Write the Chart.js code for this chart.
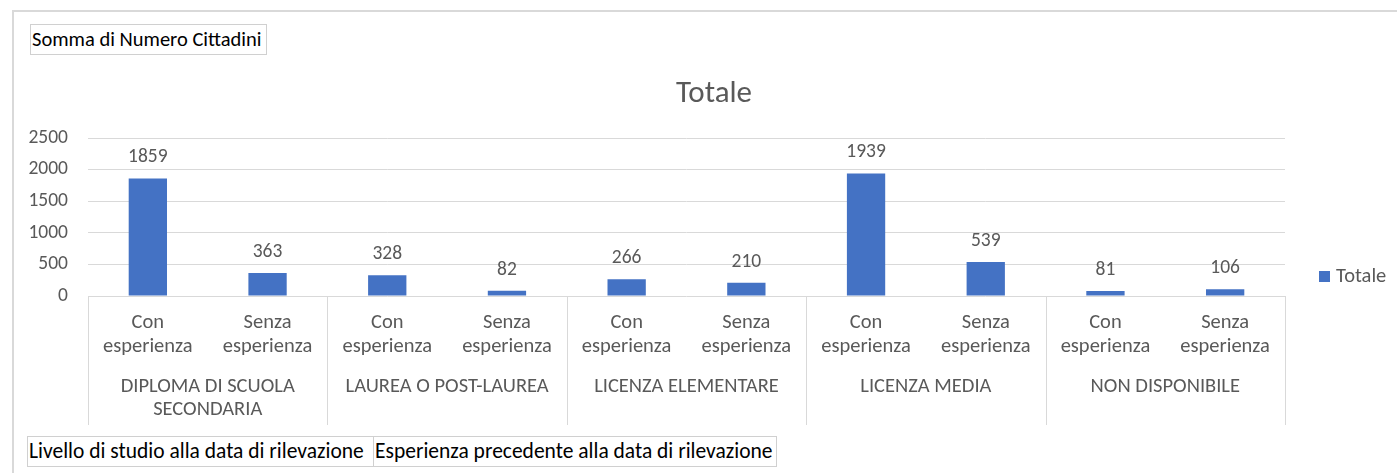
<!DOCTYPE html>
<html>
<head>
<meta charset="utf-8">
<script src="https://cdn.jsdelivr.net/npm/chart.js@4"></script>
<style>
  body { margin: 0; background: #fff; font-family: Carlito, Lato, sans-serif; }
  #wrap { position: relative; width: 1397px; height: 473px; overflow: hidden; }
  #frame { position: absolute; left: 12px; top: 10px; width: 1400px; height: 480px;
           border-top: 2px solid #d9d9d9; border-left: 2px solid #d9d9d9; }
  .btn { position: absolute; border: 1px solid #d0d0d0; font-size: 21.5px; color: #000;
         height: 29px; line-height: 29px; padding: 0 1px; white-space: nowrap; background: #fff; }
  canvas { position: absolute; left: 0; top: 0; }
</style>
</head>
<body>
<div id="wrap">
  <div id="frame"></div>
  <canvas id="grafico" width="1397" height="473"></canvas>
  <div class="btn" style="left:30px;top:24px;width:233px;font-size:20.5px;">Somma di Numero Cittadini</div>
  <div class="btn" style="left:27px;top:436px;width:344px;">Livello di studio alla data di rilevazione</div>
  <div class="btn" style="left:373px;top:436px;width:400px;">Esperienza precedente alla data di rilevazione</div>
</div>
<script>
// livelli di studio (ogni gruppo ha le sue righe di etichetta)
const livelli = [
  ["DIPLOMA DI SCUOLA", "SECONDARIA"],
  ["LAUREA O POST-LAUREA"],
  ["LICENZA ELEMENTARE"],
  ["LICENZA MEDIA"],
  ["NON DISPONIBILE"]
];
const esperienza = [["Con", "esperienza"], ["Senza", "esperienza"]];
const totale = [1859, 363, 328, 82, 266, 210, 1939, 539, 81, 106];
const yMax = 2500;
const yStep = 500;

const grigio = "#595959";
const blu = "#4472C4";
const font = "Carlito, Lato, sans-serif";

let etichette = [];
livelli.forEach(l => esperienza.forEach(e => etichette.push(e.join(" ") + " - " + l.join(" "))));

// titolo, asse a due livelli, etichette dati e legenda disegnati a mano
const assePivot = {
  id: "assePivot",
  afterDraw(chart) {
    const ctx = chart.ctx;
    const x = chart.scales.x;
    const area = chart.chartArea;
    const n = esperienza.length;
    ctx.save();
    ctx.fillStyle = grigio;
    ctx.textAlign = "center";
    ctx.textBaseline = "middle";

    // titolo centrato su tutto il grafico
    ctx.font = "31px " + font;
    ctx.fillText(chart.data.datasets[0].label, 714, 94);

    // valori sopra le barre
    ctx.font = "19.5px " + font;
    const meta = chart.getDatasetMeta(0);
    meta.data.forEach((bar, i) => {
      ctx.fillText(String(totale[i]), bar.x, bar.y - 21);
    });

    // categorie interne
    ctx.font = "20.5px " + font;
    totale.forEach((v, i) => {
      const cx = x.getPixelForValue(i);
      const righe = esperienza[i % n];
      righe.forEach((r, k) => ctx.fillText(r, cx, area.bottom + 27 + k * 24));
    });

    // gruppi e separatori
    const passo = x.getPixelForValue(1) - x.getPixelForValue(0);
    ctx.strokeStyle = "#d9d9d9";
    ctx.lineWidth = 1;
    livelli.forEach((l, g) => {
      const left = x.getPixelForValue(g * n) - passo / 2;
      const right = x.getPixelForValue(g * n + n - 1) + passo / 2;
      l.forEach((r, k) => ctx.fillText(r, (left + right) / 2, area.bottom + 91 + k * 23));
      [left, right].forEach(px => {
        ctx.beginPath();
        ctx.moveTo(Math.round(px) + 0.5, area.bottom);
        ctx.lineTo(Math.round(px) + 0.5, area.bottom + 129);
        ctx.stroke();
      });
    });

    // legenda
    ctx.fillStyle = blu;
    ctx.fillRect(area.right + 34, 271, 11, 11);
    ctx.fillStyle = grigio;
    ctx.textAlign = "left";
    ctx.font = "20.5px " + font;
    ctx.fillText(chart.data.datasets[0].label, area.right + 51, 277);
    ctx.restore();
  }
};

new Chart(document.getElementById("grafico"), {
  type: "bar",
  data: {
    labels: etichette,
    datasets: [
      {
        label: "Totale",
        data: totale,
        backgroundColor: blu,
        categoryPercentage: 1,
        barPercentage: 0.32
      }
    ]
  },
  options: {
    responsive: false,
    animation: false,
    layout: { padding: { left: 12, top: 138, right: 112, bottom: 177 } },
    plugins: {
      legend: { display: false },
      tooltip: { enabled: false },
      title: { display: false }
    },
    scales: {
      x: { display: false },
      y: {
        min: 0,
        max: yMax,
        afterFit(s) { s.width = 76; },
        ticks: {
          stepSize: yStep,
          color: grigio,
          padding: 20,
          font: { family: font, size: 19.5 },
          callback: v => String(v)
        },
        grid: { color: "#d9d9d9", drawTicks: false },
        border: { display: false }
      }
    }
  },
  plugins: [assePivot]
});
</script>
</body>
</html>
